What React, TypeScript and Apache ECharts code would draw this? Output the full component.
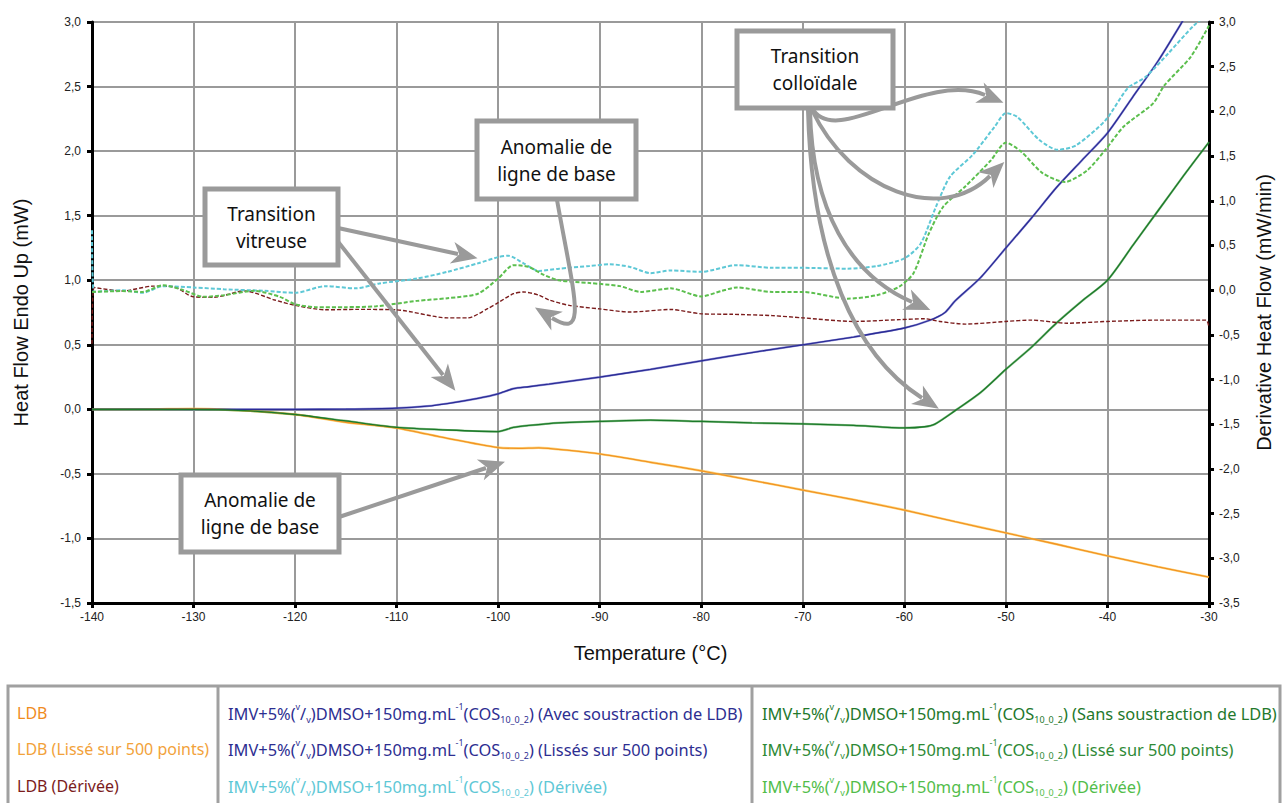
import React, { useEffect, useRef } from 'react';
import * as echarts from 'echarts';

// ---------- axes ----------
const X_MIN = -140, X_MAX = -30, X_STEP = 10;
const YL_MIN = -1.5, YL_MAX = 3, YL_STEP = 0.5;
const YR_MIN = -3.5, YR_MAX = 3, YR_STEP = 0.5;

// ---------- data (temperature °C, value) ----------
// Heat flow (mW), left axis
const ldb: number[][] = [[-140,0],[-135,0.0],[-130,0.005],[-125,-0.01],[-120,-0.04],[-115,-0.1],[-110,-0.145],[-105,-0.225],[-100,-0.296],[-98,-0.302],[-96,-0.298],[-93,-0.318],[-90,-0.345],[-85,-0.41],[-80,-0.476],[-75,-0.55],[-70,-0.625],[-65,-0.7],[-60,-0.78],[-55,-0.87],[-50,-0.957],[-45,-1.045],[-40,-1.135],[-35,-1.22],[-30,-1.3]];
const imvAvec: number[][] = [[-140,0],[-130,0.0],[-120,0.0],[-115,0.002],[-110,0.01],[-107,0.025],[-105,0.045],[-102,0.085],[-100,0.12],[-98.5,0.16],[-97,0.175],[-95,0.195],[-90,0.25],[-85,0.31],[-80,0.375],[-75,0.44],[-70,0.5],[-65,0.56],[-60,0.63],[-57.5,0.69],[-56,0.75],[-55,0.84],[-52.5,1.02],[-50,1.25],[-47.5,1.48],[-45,1.72],[-42.5,1.93],[-40,2.14],[-37.5,2.42],[-35,2.7],[-32.5,3.02],[-30,3.35]];
const imvSans: number[][] = [[-140,0],[-130,0.0],[-125,-0.01],[-120,-0.04],[-115,-0.09],[-110,-0.14],[-105,-0.16],[-100,-0.172],[-98.5,-0.14],[-97,-0.125],[-95,-0.11],[-90,-0.094],[-85,-0.084],[-80,-0.094],[-75,-0.105],[-70,-0.112],[-65,-0.125],[-60,-0.144],[-58,-0.135],[-57,-0.115],[-55,-0.01],[-52.5,0.13],[-50,0.31],[-47.5,0.48],[-45,0.67],[-42.5,0.84],[-40,1.0],[-37.5,1.27],[-35,1.54],[-32.5,1.81],[-30,2.07]];

// Derivative heat flow (mW/min), right axis
const ldbDeriv: number[][] = [[-140,-0.6],[-139.8,0.03],[-137,-0.01],[-134,0.045],[-132,0.04],[-130,-0.075],[-128,-0.08],[-125,-0.008],[-122,-0.11],[-120,-0.17],[-117,-0.22],[-114,-0.215],[-110,-0.22],[-105,-0.31],[-103,-0.31],[-101,-0.205],[-100,-0.14],[-98.5,-0.04],[-97.5,-0.02],[-96,-0.056],[-95,-0.11],[-93,-0.17],[-90,-0.21],[-87,-0.245],[-83,-0.216],[-80,-0.265],[-77,-0.27],[-73,-0.285],[-70,-0.31],[-65,-0.35],[-60.5,-0.33],[-58,-0.32],[-56.5,-0.35],[-54,-0.38],[-50,-0.35],[-47.5,-0.335],[-44,-0.37],[-40,-0.35],[-35,-0.335],[-30.3,-0.335],[-30,-0.42]];
const imvDerivCyan: number[][] = [[-140,0.67],[-139.8,-0.02],[-137,0.0],[-135,-0.03],[-133,0.045],[-130,0.03],[-127,0.01],[-123,-0.008],[-120,-0.03],[-117,0.045],[-114,0.02],[-111.7,0.075],[-108,0.13],[-105,0.205],[-102,0.3],[-100,0.37],[-99,0.385],[-97.5,0.3],[-96,0.215],[-94,0.24],[-91,0.27],[-89,0.29],[-87,0.26],[-85,0.19],[-83,0.22],[-80,0.205],[-76.5,0.28],[-73,0.25],[-70,0.25],[-65.6,0.24],[-62.7,0.27],[-60,0.355],[-58.4,0.52],[-56.9,0.93],[-55.5,1.27],[-53.3,1.51],[-51.1,1.83],[-50,1.98],[-48.9,1.94],[-46.7,1.68],[-44.9,1.57],[-43.1,1.62],[-40.2,1.9],[-38,2.26],[-36.2,2.39],[-34,2.65],[-31.5,2.96],[-30,3.1]];
const imvDerivGreen: number[][] = [[-140,-0.02],[-137,-0.01],[-135,-0.02],[-133,0.056],[-131,0.0],[-129,-0.075],[-127,-0.056],[-124,-0.008],[-121.5,-0.075],[-120,-0.157],[-118,-0.19],[-115,-0.19],[-112,-0.18],[-108,-0.12],[-105,-0.09],[-102,-0.04],[-100,0.13],[-98.5,0.28],[-97,0.26],[-95.5,0.17],[-94,0.11],[-91,0.08],[-88,0.045],[-86,-0.02],[-83,0.02],[-80,-0.07],[-78,-0.008],[-76.5,0.03],[-73,-0.02],[-70,-0.02],[-65.6,-0.095],[-62.7,-0.056],[-60.5,0.04],[-59.1,0.19],[-57.6,0.63],[-56.2,0.93],[-54,1.16],[-51.5,1.45],[-50,1.65],[-48.5,1.55],[-46.4,1.31],[-44.2,1.21],[-42,1.34],[-40.2,1.57],[-38.4,1.83],[-35.5,2.09],[-34.4,2.29],[-31.8,2.61],[-30,2.96]];

// ---------- legend labels ----------
const LEG_LDB = ['LDB', 'LDB (Lissé sur 500 points)', 'LDB (Dérivée)'];
const LEG_BLUE = ['(Avec soustraction de LDB)', '(Lissés sur 500 points)', '(Dérivée)'];
const LEG_GREEN = ['(Sans soustraction de LDB)', '(Lissé sur 500 points)', '(Dérivée)'];

const C = {
  orange: '#f39322', orangeLight: 'rgba(250,200,80,0.7)', darkRed: '#7b1c1c',
  blue: '#2b2c96', blueLight: 'rgba(80,80,190,0.6)', cyan: '#5ec8d6',
  green: '#1c7a2a', greenMid: 'rgba(60,150,60,0.6)', greenLight: '#5cbf4e',
};
const COL_LDB = ['#f08c1e', '#f2a23a', '#7b1c1c'];
const COL_BLUE = ['#2d2e91', '#2d2e91', C.cyan];
const COL_GREEN = ['#23782c', '#2e8a36', '#52bd4a'];

const AX_FONT = "'Liberation Sans', Arial, Helvetica, sans-serif";
const TXT_FONT = "'Noto Sans', 'Open Sans', sans-serif";
const GRAY = '#9a9a9a';

const fmt = (v: number) => v.toFixed(1).replace('.', ',');

function arrowHead(ex: number, ey: number, fx: number, fy: number) {
  const dx = ex - fx, dy = ey - fy;
  const L = Math.hypot(dx, dy) || 1;
  const ux = dx / L, uy = dy / L, nx = -uy, ny = ux;
  const len = 26, w = 11;
  const tip = [ex + ux * 20, ey + uy * 20];
  const back = [tip[0] - ux * len, tip[1] - uy * len];
  const notch = [tip[0] - ux * len * 0.72, tip[1] - uy * len * 0.72];
  return {
    type: 'polygon', z: 101, silent: true,
    shape: { points: [tip, [back[0] + nx * w, back[1] + ny * w], notch, [back[0] - nx * w, back[1] - ny * w]] },
    style: { fill: GRAY },
  };
}
function lineArrow(x1: number, y1: number, x2: number, y2: number) {
  return [
    { type: 'line', z: 100, silent: true, shape: { x1, y1, x2, y2 }, style: { stroke: GRAY, lineWidth: 4 } },
    arrowHead(x2, y2, x1, y1),
  ];
}
function curveArrow(p: number[][]) {
  const [s, c1, c2, e] = p;
  return [
    { type: 'bezierCurve', z: 100, silent: true,
      shape: { x1: s[0], y1: s[1], cpx1: c1[0], cpy1: c1[1], cpx2: c2[0], cpy2: c2[1], x2: e[0], y2: e[1] },
      style: { stroke: GRAY, lineWidth: 4, fill: 'none' } },
    arrowHead(e[0], e[1], c2[0], c2[1]),
  ];
}
function box(x: number, y: number, w: number, h: number, lines: string) {
  return [
    { type: 'rect', z: 102, silent: true, shape: { x, y, width: w, height: h },
      style: { fill: '#fff', stroke: GRAY, lineWidth: 5 } },
    { type: 'text', z: 103, silent: true, x: x + w / 2, y: y + h / 2,
      style: { text: lines, fill: '#111', font: `19px ${TXT_FONT}`, align: 'center', verticalAlign: 'middle', lineHeight: 27 } },
  ];
}

const RICH = {
  n: { fontSize: 16.4, lineHeight: 22, fontFamily: TXT_FONT },
  sup: { fontSize: 9, lineHeight: 9, verticalAlign: 'top', fontFamily: TXT_FONT },
  sub: { fontSize: 9, lineHeight: 9, verticalAlign: 'bottom', fontFamily: TXT_FONT },
};
const imvText = (suffix: string) =>
  `{n|IMV+5%(}{sup|v}{n|/}{sub|v}{n|)DMSO+150mg.mL}{sup|-1}{n|(COS}{sub|10_0_2}{n|) ${suffix}}`;

function legendGraphic() {
  const rowsY = [713, 749, 786];
  const els: any[] = [
    { type: 'rect', z: 50, silent: true, shape: { x: 8, y: 686, width: 1272, height: 130 },
      style: { fill: '#fff', stroke: '#a0a0a0', lineWidth: 3 } },
    { type: 'line', z: 51, silent: true, shape: { x1: 218, y1: 686, x2: 218, y2: 803 }, style: { stroke: '#a0a0a0', lineWidth: 3 } },
    { type: 'line', z: 51, silent: true, shape: { x1: 752, y1: 686, x2: 752, y2: 803 }, style: { stroke: '#a0a0a0', lineWidth: 3 } },
  ];
  rowsY.forEach((y, i) => {
    els.push({ type: 'text', z: 52, silent: true, x: 17, y,
      style: { text: LEG_LDB[i], fill: COL_LDB[i], font: `16px ${TXT_FONT}`, verticalAlign: 'middle' } });
    els.push({ type: 'text', z: 52, silent: true, x: 228, y,
      style: { text: imvText(LEG_BLUE[i]), fill: COL_BLUE[i], rich: RICH, verticalAlign: 'middle' } });
    els.push({ type: 'text', z: 52, silent: true, x: 762, y,
      style: { text: imvText(LEG_GREEN[i]), fill: COL_GREEN[i], rich: RICH, verticalAlign: 'middle' } });
  });
  return els;
}

function annotations() {
  return [
    ...lineArrow(338, 228, 458, 254),
    ...lineArrow(332, 234, 443, 375),
    ...curveArrow([[557, 200], [575, 300], [588, 340], [552, 318]]),
    ...lineArrow(339, 517, 486, 468),
    ...curveArrow([[812, 108], [835, 150], [925, 70], [985, 95]]),
    ...curveArrow([[812, 110], [850, 190], [940, 225], [990, 176]]),
    ...curveArrow([[810, 110], [812, 210], [850, 275], [912, 302]]),
    ...curveArrow([[808, 110], [812, 260], [855, 355], [922, 398]]),
    ...box(205, 189, 133, 76, 'Transition\nvitreuse'),
    ...box(477, 121, 159, 78, 'Anomalie de\nligne de base'),
    ...box(737, 31, 156, 77, 'Transition\ncolloïdale'),
    ...box(181, 475, 158, 77, 'Anomalie de\nligne de base'),
  ];
}

function lineSeries(name: string, data: number[][], color: string, width: number, yAxisIndex: number, dashed = false, z = 2) {
  return {
    type: 'line', name, data, yAxisIndex, showSymbol: false, smooth: 0.25, z,
    lineStyle: { color, width, type: dashed ? [4, 2] : 'solid' },
    itemStyle: { color },
  };
}

const axisCommon = {
  axisLine: { show: true, onZero: false, lineStyle: { color: '#000', width: 3 } },
  axisTick: { show: true, inside: false, length: 5, lineStyle: { color: '#000', width: 3 } },
};

export default function App() {
  const ref = useRef<HTMLDivElement>(null);
  useEffect(() => {
    if (!ref.current) return;
    const chart = echarts.init(ref.current, undefined, { renderer: 'svg' });
    const imvPrefix = 'IMV+5%(v/v)DMSO+150mg.mL-1(COS10_0_2) ';
    chart.setOption({
      animation: false,
      backgroundColor: '#fff',
      grid: { left: 92, right: 64, top: 22, bottom: 200, containLabel: false },
      xAxis: {
        type: 'value', min: X_MIN, max: X_MAX, interval: X_STEP,
        name: 'Temperature (°C)', nameLocation: 'middle', nameGap: 40,
        nameTextStyle: { fontFamily: AX_FONT, fontSize: 20, color: '#111' },
        ...axisCommon,
        axisLabel: { margin: 8, fontFamily: AX_FONT, fontSize: 12, color: '#222', formatter: (v: number) => String(v) },
        splitLine: { show: true, lineStyle: { color: GRAY, width: 2 } },
      },
      yAxis: [
        {
          type: 'value', position: 'left', min: YL_MIN, max: YL_MAX, interval: YL_STEP,
          name: 'Heat Flow Endo Up (mW)', nameLocation: 'middle', nameGap: 61, nameRotate: 90,
          nameTextStyle: { fontFamily: AX_FONT, fontSize: 20, color: '#111' },
          ...axisCommon,
          axisLabel: { margin: 11, fontFamily: AX_FONT, fontSize: 12, color: '#222', formatter: fmt },
          splitLine: { show: true, lineStyle: { color: GRAY, width: 2 } },
        },
        {
          type: 'value', position: 'right', min: YR_MIN, max: YR_MAX, interval: YR_STEP,
          name: 'Derivative Heat Flow (mW/min)', nameLocation: 'middle', nameGap: 45, nameRotate: 90,
          nameTextStyle: { fontFamily: AX_FONT, fontSize: 20, color: '#111' },
          ...axisCommon,
          axisLabel: { margin: 10, fontFamily: AX_FONT, fontSize: 12, color: '#222', formatter: fmt },
          splitLine: { show: false },
        },
      ],
      series: [
        lineSeries(LEG_LDB[1], ldb, C.orangeLight, 2.4, 0, false, 2),
        lineSeries(LEG_LDB[0], ldb, C.orange, 1.3, 0, false, 3),
        lineSeries(imvPrefix + LEG_BLUE[1], imvAvec, C.blueLight, 2.2, 0, false, 2),
        lineSeries(imvPrefix + LEG_BLUE[0], imvAvec, C.blue, 1.3, 0, false, 3),
        lineSeries(imvPrefix + LEG_GREEN[1], imvSans, C.greenMid, 2.2, 0, false, 2),
        lineSeries(imvPrefix + LEG_GREEN[0], imvSans, C.green, 1.3, 0, false, 3),
        lineSeries(LEG_LDB[2], ldbDeriv, C.darkRed, 1.4, 1, true, 3),
        lineSeries(imvPrefix + LEG_BLUE[2], imvDerivCyan, C.cyan, 2, 1, true, 3),
        lineSeries(imvPrefix + LEG_GREEN[2], imvDerivGreen, C.greenLight, 2, 1, true, 3),
      ],
      graphic: { elements: [...annotations(), ...legendGraphic()] },
    });
    return () => chart.dispose();
  }, []);
  return <div ref={ref} style={{ position: 'fixed', left: 0, top: 0, width: 1282, height: 803, background: '#fff' }} />;
}
